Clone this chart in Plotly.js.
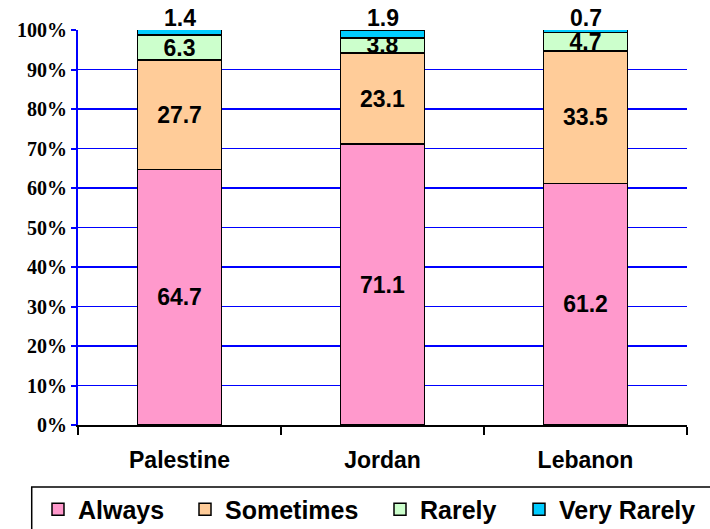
<!DOCTYPE html>
<html>
<head>
<meta charset="utf-8">
<script src="https://cdn.plot.ly/plotly-3.0.1.min.js"></script>
<style>html,body{margin:0;padding:0;background:#fff;}#chart{width:710px;height:529px;}</style>
</head>
<body>
<div id="chart"></div>
<script>
const categories = ['Palestine', 'Jordan', 'Lebanon'];
const seriesNames = ['Always', 'Sometimes', 'Rarely', 'Very Rarely'];
const always = [64.7, 71.1, 61.2];
const sometimes = [27.7, 23.1, 33.5];
const rarely = [6.3, 3.8, 4.7];
const veryRarely = [1.4, 1.9, 0.7];
const yTickVals = [0, 10, 20, 30, 40, 50, 60, 70, 80, 90, 100];

const colors = ['#FF99CC', '#FFCC99', '#CCFFCC', '#00CCFF'];
const SANS = 'Liberation Sans, Arial, sans-serif';
const labelFont = {family: SANS, size: 23, color: '#000', weight: 'bold'};
const legendKeys = ['legend', 'legend2', 'legend3', 'legend4'];
// left edge (px, in the 710-wide page) of each legend entry
const legendLeft = [38, 185, 380, 519];

function series(i, values, pos) {
  return {
    type: 'bar', name: seriesNames[i], x: categories, y: values,
    legend: legendKeys[i],
    text: values.map(v => v.toFixed(1)),
    textposition: pos, insidetextanchor: 'middle', textangle: 0, constraintext: 'none',
    textfont: labelFont, insidetextfont: labelFont,
    cliponaxis: false, hoverinfo: 'none',
    marker: {color: colors[i], line: {color: '#000', width: 1.5}}
  };
}

const data = [
  series(0, always, 'inside'),
  series(1, sometimes, 'inside'),
  series(2, rarely, 'inside'),
  series(3, veryRarely, 'none')
];

const totals = categories.map((c, i) => always[i] + sometimes[i] + rarely[i] + veryRarely[i]);
const annotations = categories.map((c, i) => ({
  x: c, y: Math.min(totals[i], 100), xref: 'x', yref: 'y',
  text: veryRarely[i].toFixed(1), showarrow: false,
  yanchor: 'bottom', yshift: -3, font: labelFont
}));

const layout = {
  width: 710, height: 529,
  margin: {l: 78, r: 23, t: 30, b: 104, pad: 0},
  paper_bgcolor: '#fff', plot_bgcolor: '#fff',
  barmode: 'stack', bargap: 0.586,
  showlegend: true,
  annotations: annotations,
  shapes: [{
    type: 'rect', xref: 'paper', yref: 'paper',
    x0: -0.076, x1: 1.06, y0: -0.157, y1: -0.32,
    line: {color: '#000', width: 1.5}, fillcolor: 'rgba(0,0,0,0)', layer: 'above'
  }],
  xaxis: {
    type: 'category', tickson: 'boundaries', ticks: 'outside', ticklen: 8, tickwidth: 1.5, tickcolor: '#000',
    showline: true, linecolor: '#000', linewidth: 2, showgrid: false, zeroline: false,
    tickfont: {family: SANS, size: 23, color: '#000', weight: 'bold'},
    ticklabelstandoff: 13
  },
  yaxis: {
    range: [0, 100], tickvals: yTickVals, ticktext: yTickVals.map(v => v + '%'),
    ticks: 'outside', ticklen: 5, tickwidth: 2, tickcolor: '#0000FF',
    showline: true, linecolor: '#0000FF', linewidth: 2,
    showgrid: true, gridcolor: '#0000FF', gridwidth: 1.5, zeroline: false,
    tickfont: {family: 'Liberation Serif, Times New Roman, serif', size: 20, color: '#000', weight: 'bold'}
  }
};

legendKeys.forEach((k, i) => {
  layout[k] = {
    orientation: 'h',
    xref: 'container', yref: 'container',
    x: legendLeft[i] / 710, y: 1 - 509.5 / 529, xanchor: 'left', yanchor: 'middle',
    borderwidth: 0, bgcolor: 'rgba(0,0,0,0)',
    font: {family: SANS, size: 25, color: '#000', weight: 'bold'}
  };
});

Plotly.newPlot('chart', data, layout, {displayModeBar: false, staticPlot: true});
</script>
</body>
</html>
